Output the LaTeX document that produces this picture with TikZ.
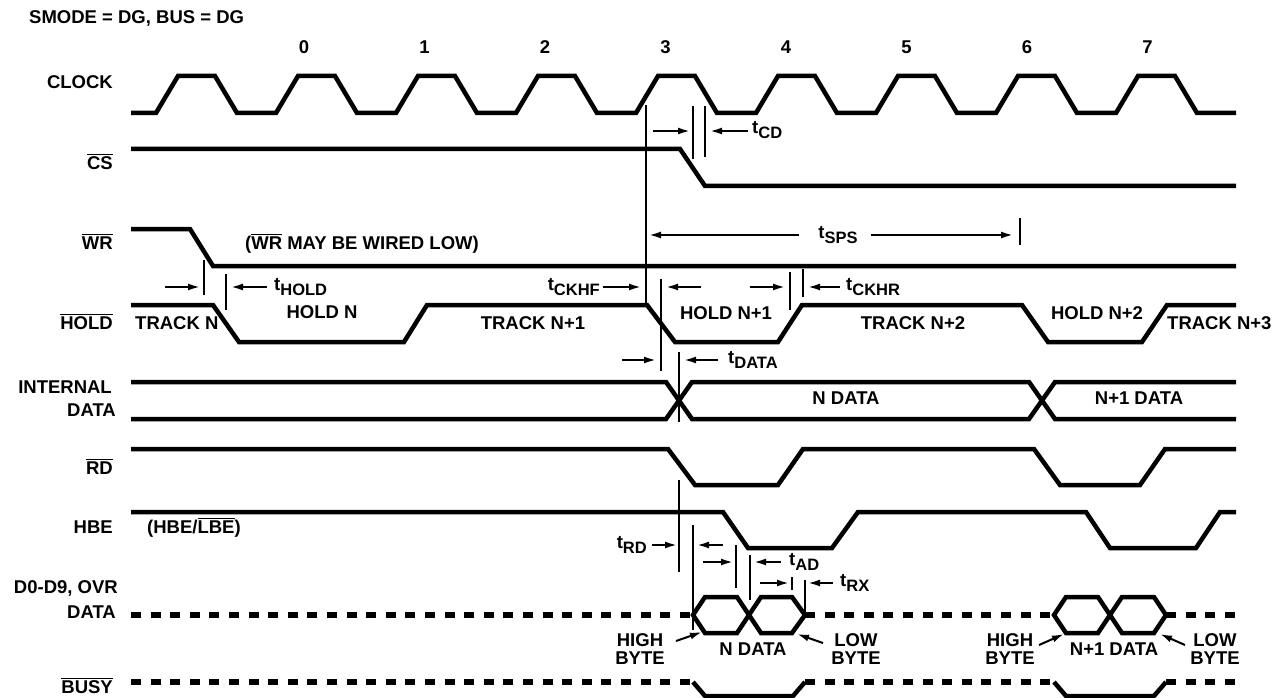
\documentclass[tikz,border=0pt]{standalone}
\usepackage{fontspec}
\setmainfont{Liberation Sans}
\usetikzlibrary{arrows.meta}
\newcommand{\ovl}[1]{\vbox{\hrule height 1.3pt\kern 1.6pt\hbox{#1}}}
\newcommand{\tsub}[1]{t\raisebox{-5pt}{\fontsize{16.5}{16.5}\selectfont #1}}

\begin{document}
\begin{tikzpicture}[x=1pt, y=-1pt,
    sig/.style={line width=4.5pt, line join=miter},
    bus/.style={line width=5.5pt, dash pattern=on 10pt off 9.6pt},
    tick/.style={line width=1.8pt},
    dim/.style={line width=2pt, -{Latex[length=12pt,width=7pt]}},
    every node/.style={font=\bfseries\fontsize{18.5}{18}\selectfont, inner sep=0pt}]
    \useasboundingbox[fill=white] (0,0) rectangle (1275,698);

    \node[anchor=base west] (mode) at (29,24) {SMODE = DG, BUS = DG};
    \foreach \n in {0,...,7}
        \node[anchor=base] (num\n) at ({304+120.5*\n},53.6) {\n};

    % signal names
    \node[anchor=base east] (lclk) at (113,88.6) {CLOCK};
    \node[anchor=base east] (lcs) at (113,169.6) {\ovl{CS}};
    \node[anchor=base east] (lwr) at (113,249.6) {\ovl{WR}};
    \node[anchor=base east] (lhold) at (113,329.6) {\ovl{HOLD}};
    \node[anchor=base east] (lint) at (112,393.6) {INTERNAL};
    \node[anchor=base east] (lintd) at (116,416.6) {DATA};
    \node[anchor=base east] (lrd) at (113,474.6) {\ovl{RD}};
    \node[anchor=base east] (lhbe) at (113,533.6) {HBE};
    \node[anchor=base east] (lout) at (118,593.6) {D0-D9, OVR};
    \node[anchor=base east] (loutd) at (116,618.6) {DATA};
    \node[anchor=base east] (lbusy) at (113,693.6) {\ovl{BUSY}};

    % waveforms
    \draw[sig] (131,113) \foreach \k in {0,...,8} { -- ({156+120*\k},113) -- ({178+120*\k},76)
        -- ({215+120*\k},76) -- ({237+120*\k},113) } -- (1236,113);
    \draw[sig] (131,149) -- (680,149) -- (705,186) -- (1236,186);
    \draw[sig] (131,229) -- (190,229) -- (213,266) -- (1236,266);
    \draw[sig] (131,305) -- (213,305) -- (239,342) -- (404,342) -- (427,305) -- (647,305)
        -- (675,342) -- (778,342) -- (802,305) -- (1022,305) -- (1048,342) -- (1142,342)
        -- (1167,305) -- (1236,305);
    \draw[sig] (131,382) -- (666,382) -- (692,419) -- (1029,419) -- (1055,382) -- (1236,382);
    \draw[sig] (131,419) -- (666,419) -- (692,382) -- (1029,382) -- (1055,419) -- (1236,419);
    \draw[sig] (131,449) -- (668,449) -- (695,485) -- (778,485) -- (803,449) -- (1034,449)
        -- (1060,485) -- (1140,485) -- (1165,449) -- (1236,449);
    \draw[sig] (131,512) -- (723,512) -- (748,548) -- (832,548) -- (858,512) -- (1086,512)
        -- (1110,548) -- (1196,548) -- (1220,512) -- (1236,512);
    \draw[sig] (693,615) -- (705,597) -- (737,597) -- (761,633) -- (792,633) -- (805,615)
        -- (792,597) -- (761,597) -- (737,633) -- (705,633) -- cycle;
    \draw[sig] (1054,615) -- (1066,597) -- (1098,597) -- (1122,633) -- (1154,633) -- (1166,615)
        -- (1154,597) -- (1122,597) -- (1098,633) -- (1066,633) -- cycle;
    \draw[bus] (131,615) -- (693,615);
    \draw[bus] (805,615) -- (1054,615);
    \draw[bus] (1166,615) -- (1236,615);
    \draw[bus] (131,682) -- (693,682);
    \draw[bus] (805,682) -- (1054,682);
    \draw[bus] (1166,682) -- (1236,682);
    \draw[sig] (693,682) -- (705,696) -- (793,696) -- (805,682);
    \draw[sig] (1054,682) -- (1066,696) -- (1154,696) -- (1166,682);

    % states
    \node[anchor=base west] (wrnote) at (245,249.6) {(\ovl{WR} MAY BE WIRED LOW)};
    \node[anchor=base west] (trk0) at (135,329.6) {TRACK N};
    \node[anchor=base] (hld0) at (322,318.6) {HOLD N};
    \node[anchor=base] (trk1) at (533,329.6) {TRACK N+1};
    \node[anchor=base] (hld1) at (726,319.6) {HOLD N+1};
    \node[anchor=base] (trk2) at (913,329.6) {TRACK N+2};
    \node[anchor=base] (hld2) at (1097,319.6) {HOLD N+2};
    \node[anchor=base west] (trk3) at (1167,329.6) {TRACK N+3};
    \node[anchor=base] (dat0) at (846,404.6) {N DATA};
    \node[anchor=base] (dat1) at (1139,404.6) {N+1 DATA};
    \node[anchor=base west] (hbenote) at (147,533.6) {(HBE/\ovl{LBE})};
    \node[align=center] (hi0) at (640,649) {HIGH\\BYTE};
    \node[anchor=base] (byt0) at (753,655.6) {N DATA};
    \node[align=center] (lo0) at (856,649) {LOW\\BYTE};
    \node[align=center] (hi1) at (1010,649) {HIGH\\BYTE};
    \node[anchor=base] (byt1) at (1114,655.6) {N+1 DATA};
    \node[align=center] (lo1) at (1215,649) {LOW\\BYTE};
    \draw[dim] (676,641) -- (702,632);
    \draw[dim] (823,643) -- (797,634);
    \draw[dim] (1039,645) -- (1064,634);
    \draw[dim] (1185,645) -- (1160,634);

    % timing marks
    \draw[tick] (646,105) -- (646,303);
    \draw[tick] (693,106) -- (693,159);
    \draw[tick] (705,106) -- (705,157);
    \draw[dim] (653,131) -- (690,131);
    \draw[dim] (748,131) -- (710,131);
    \node[anchor=base west] (tcd) at (752,134) {\tsub{CD}};

    \draw[tick] (1020,218) -- (1020,245);
    \draw[dim] (799,235) -- (649,235);
    \draw[dim] (871,235) -- (1013,235);
    \node[anchor=base] (tsps) at (838,238) {\tsub{SPS}};

    \draw[tick] (204,260) -- (204,295);
    \draw[tick] (226,274) -- (226,310);
    \draw[dim] (165,287) -- (200,287);
    \draw[dim] (267,287) -- (231,287);
    \node[anchor=base west] (thold) at (274,290) {\tsub{HOLD}};

    \node[anchor=base east] (tckhf) at (600,290) {\tsub{CKHF}};
    \draw[dim] (603,287) -- (641,287);
    \draw[tick] (661,279) -- (661,371);
    \draw[dim] (701,287) -- (666,287);
    \draw[dim] (750,287) -- (785,287);
    \draw[tick] (790,272) -- (790,310);
    \draw[tick] (803,269) -- (803,297);
    \draw[dim] (840,287) -- (808,287);
    \node[anchor=base west] (tckhr) at (846,290) {\tsub{CKHR}};

    \draw[dim] (622,360) -- (656,360);
    \draw[tick] (679,352) -- (679,422);
    \draw[dim] (718,360) -- (684,360);
    \node[anchor=base west] (tdata) at (728,363) {\tsub{DATA}};

    \node[anchor=base east] (trd) at (647,548) {\tsub{RD}};
    \draw[dim] (652,545) -- (677,545);
    \draw[tick] (679,480) -- (679,572);
    \draw[tick] (693,525) -- (693,630);
    \draw[dim] (723,545) -- (697,545);

    \draw[dim] (703,562) -- (733,562);
    \draw[tick] (736,545) -- (736,588);
    \draw[tick] (750,555) -- (750,600);
    \draw[dim] (781,562) -- (754,562);
    \node[anchor=base west] (tad) at (789,565) {\tsub{AD}};

    \draw[dim] (760,583) -- (789,583);
    \draw[tick] (792,577) -- (792,590);
    \draw[tick] (805,580) -- (805,612);
    \draw[dim] (833,583) -- (808,583);
    \node[anchor=base west] (trx) at (840,586) {\tsub{RX}};
\end{tikzpicture}
\end{document}
